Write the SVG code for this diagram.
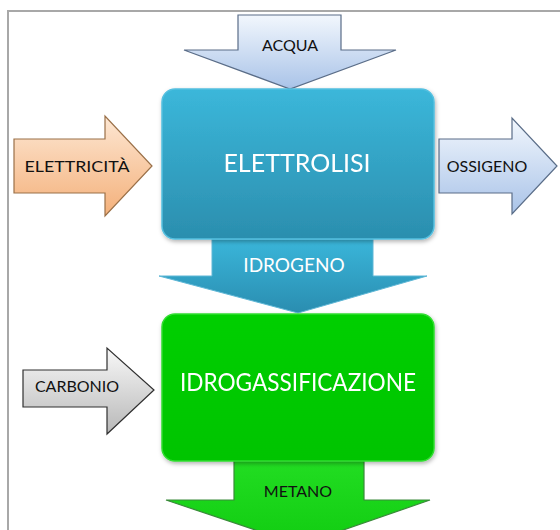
<svg xmlns="http://www.w3.org/2000/svg" width="560" height="530" viewBox="0 0 560 530">
<defs>
<linearGradient id="gTeal" x1="0" y1="0" x2="0" y2="1"><stop offset="0" stop-color="#3bb7da"/><stop offset="1" stop-color="#2b8eae"/></linearGradient>
<linearGradient id="gTealA" x1="0" y1="0" x2="0" y2="1"><stop offset="0" stop-color="#3ab6da"/><stop offset="1" stop-color="#2a8db0"/></linearGradient>
<linearGradient id="gGreen" x1="0" y1="0" x2="0" y2="1"><stop offset="0" stop-color="#00cf00"/><stop offset="1" stop-color="#00c400"/></linearGradient>
<linearGradient id="gGreenA" x1="0" y1="0" x2="0" y2="1"><stop offset="0" stop-color="#22dd22"/><stop offset="1" stop-color="#11cc11"/></linearGradient>
<linearGradient id="gBlue" x1="0" y1="0" x2="0" y2="1"><stop offset="0" stop-color="#f2f7fd"/><stop offset="1" stop-color="#a9c3e8"/></linearGradient>
<linearGradient id="gPeach" x1="0" y1="0" x2="0" y2="1"><stop offset="0" stop-color="#fde7d3"/><stop offset="1" stop-color="#f4b07a"/></linearGradient>
<linearGradient id="gGray" x1="0" y1="0" x2="0" y2="1"><stop offset="0" stop-color="#f8f8f8"/><stop offset="1" stop-color="#b8b8b8"/></linearGradient>
<filter id="sh" x="-10%" y="-10%" width="125%" height="130%"><feDropShadow dx="1" dy="2" stdDeviation="2" flood-color="#000" flood-opacity="0.3"/></filter>
</defs>
<style>
.t{font-family:Lato,"Open Sans","Liberation Sans",sans-serif;text-anchor:middle}
.lbl{font-size:16px;fill:#111}
.big{font-size:25px;fill:#ffffff}
.mid{font-size:19px;fill:#ffffff}
.box{filter:url(#sh)}
.arr{stroke-width:1.2;stroke-linejoin:miter}
</style>
<rect x="8" y="11" width="560" height="530" fill="#ffffff" stroke="#a8a8a8" stroke-width="2"/>
<g id="connectors">
<g id="acqua">
<path class="arr" d="M238 15 H341 V50 H396 L290 89 L184 50 H238 Z" fill="url(#gBlue)" stroke="#5a6d88"/>
<text class="t lbl" x="290" y="51">ACQUA</text>
</g>
<g id="elettricita">
<path class="arr" d="M14 139 H105 V116 L152 166 L105 216 V193 H14 Z" fill="url(#gPeach)" stroke="#9a7048"/>
<text class="t lbl" x="77" y="172" textLength="105" lengthAdjust="spacingAndGlyphs">ELETTRICITÀ</text>
</g>
<g id="ossigeno">
<path class="arr" d="M439 139 H512 V118 L557 166 L512 214 V193 H439 Z" fill="url(#gBlue)" stroke="#5a6d88"/>
<text class="t lbl" x="487" y="172">OSSIGENO</text>
</g>
<g id="idrogeno">
<path d="M212 239 H373 V276 H427 L298 313 L159 276 H212 Z" fill="url(#gTealA)" stroke="#5fb7d6" stroke-width="1"/>
<text class="t mid" x="294" y="272">IDROGENO</text>
</g>
<g id="carbonio">
<path class="arr" d="M23 370 H107 V348 L154 390 L107 434 V407 H23 Z" fill="url(#gGray)" stroke="#303030"/>
<text class="t lbl" x="77" y="392">CARBONIO</text>
</g>
<g id="metano">
<path class="arr" d="M234 461 H364 V500 H430 L300 545 L166 500 H234 Z" fill="url(#gGreenA)" stroke="#3a8a3a"/>
<text class="t lbl" x="298" y="497">METANO</text>
</g>
</g>
<g id="elettrolisi" class="box">
<rect x="162" y="89" width="272" height="150" rx="13" fill="url(#gTeal)" stroke="#55c0e0" stroke-width="1.5"/>
<text class="t big" x="297" y="172">ELETTROLISI</text>
</g>
<g id="idrogassificazione" class="box">
<rect x="162" y="314" width="272" height="147" rx="13" fill="url(#gGreen)" stroke="#30dd30" stroke-width="1.5"/>
<text class="t big" x="298" y="391" textLength="236" lengthAdjust="spacingAndGlyphs">IDROGASSIFICAZIONE</text>
</g>
</svg>
